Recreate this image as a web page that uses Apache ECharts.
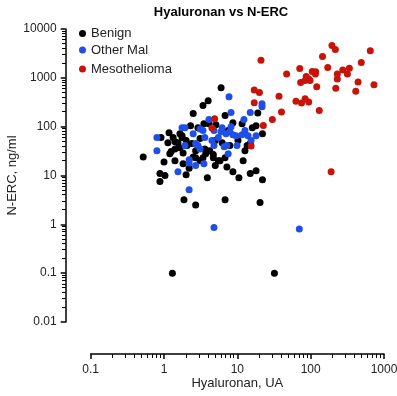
<!DOCTYPE html>
<html>
<head>
<meta charset="utf-8">
<script src="https://cdn.jsdelivr.net/npm/echarts@6/dist/echarts.min.js"></script>
<style>
    html, body { margin: 0; padding: 0; background: #fff; }
    #main { width: 397px; height: 396px; }
</style>
</head>
<body>
<div id="main"></div>
<script>
// 数据：[Hyaluronan (UA), N-ERC (ng/ml)]
var benign = [
    [6.0, 630], [4.0, 340], [3.4, 270], [2.5, 185], [6.8, 170], [19, 190],
    [2.3, 105], [2.9, 95], [3.5, 115], [4.1, 115], [5.1, 110], [8.7, 120], [11.6, 115], [16, 95], [18, 105], [22, 72],
    [1.17, 75], [1.33, 60], [1.65, 72], [1.76, 60], [0.91, 60], [1.41, 49], [1.55, 47], [2.0, 52], [2.4, 45], [2.06, 41],
    [1.65, 37], [1.41, 35], [1.25, 31], [1.82, 29], [2.7, 32], [3.6, 35], [4.2, 32], [5.0, 52], [6.2, 47], [7.9, 41],
    [13.6, 41], [15, 45], [0.52, 24], [1.0, 19], [1.41, 20], [1.82, 17.5], [2.2, 14], [2.7, 23], [3.4, 23], [3.7, 28],
    [4.7, 23], [5.8, 20], [6.8, 23], [7.2, 15], [8.7, 12], [10.5, 9], [12, 20], [15, 11], [18, 12.5], [22, 8.2],
    [2.0, 10.4], [3.9, 9], [0.88, 11], [1.03, 10], [0.88, 7.5], [1.87, 3.2], [2.7, 2.5], [6.8, 3.2], [20.4, 2.8],
    [1.3, 0.1], [32, 0.1], [1.13, 47], [3.1, 57], [7.5, 83], [10.2, 52], [12.7, 32], [3.1, 20], [5.0, 16],
    [1.2, 28], [2.5, 24], [4.7, 27], [5.5, 20], [1.76, 65]
];
var otherMal = [
    [7.7, 410], [8.2, 195], [15, 195], [21.7, 295], [21.7, 255], [12.3, 140], [0.8, 60], [0.8, 32], [1.76, 95], [1.93, 95],
    [2.5, 72], [3.1, 90], [3.4, 83], [4.1, 140], [6.2, 95], [8.2, 100], [6.0, 79], [7.0, 72], [7.9, 79], [9.6, 65],
    [11.6, 68], [14, 65], [12.7, 83], [15.4, 52], [7.2, 41], [9.9, 41], [1.93, 41], [2.9, 41], [3.1, 35], [2.7, 45],
    [1.55, 12], [2.2, 18], [2.2, 21], [2.7, 16], [3.5, 17.5], [2.2, 5.1], [4.8, 0.86], [70, 0.8], [7.5, 28], [4.5, 52],
    [5.5, 60], [3.6, 60], [18, 65], [4.8, 83], [8.7, 68], [4.8, 41], [6.6, 39]
];
var meso = [
    [21, 2300], [195, 4600], [217, 3800], [650, 3600], [145, 2750], [490, 2050], [47, 1200], [71, 1550], [105, 1350], [117, 1340],
    [116, 1200], [171, 1620], [274, 1450], [337, 1570], [231, 1200], [317, 1200], [87, 1060], [94, 950], [84, 880], [73, 800],
    [98, 880], [231, 950], [121, 660], [443, 820], [730, 720], [220, 610], [412, 530], [63, 330], [75, 305], [84, 375],
    [94, 320], [131, 215], [17, 565], [20, 500], [37, 420], [17, 310], [40, 200], [30, 140], [22.6, 106], [4.9, 146],
    [4.5, 94], [15.4, 40], [190, 12]
];

// 刻度
var xTicks = [0.1, 1, 10, 100, 1000];
var yTicks = [0.01, 0.1, 1, 10, 100, 1000, 10000];
var minorSteps = [2, 3, 4, 5, 6, 7, 8, 9];

(function() {
    var myChart = echarts.init(document.getElementById('main'));

    var FONT = 'Liberation Sans';
    var Y_OFFSET = 25;   // y轴向左偏移
    var X_OFFSET = 32;   // x轴向下偏移
    var MINOR_LEN = 4;   // 含压在轴线下的部分

    function fmt(v) {
        return String(parseFloat(Number(v).toPrecision(4)));
    }

    // 对数轴的小刻度 2..9
    var yMinor = [];
    for (var i = 0; i < yTicks.length - 1; i++) {
        minorSteps.forEach(function(m) { yMinor.push([xTicks[0], m * yTicks[i]]); });
    }
    var xMinor = [];
    for (var j = 0; j < xTicks.length - 1; j++) {
        minorSteps.forEach(function(m) { xMinor.push([m * xTicks[j], yTicks[0]]); });
    }

    var tickStyle = { color: '#000', width: 1.5 };

    option = {
        backgroundColor: '#fff',
        animation: false,
        title: {
            text: 'Hyaluronan vs N-ERC',
            left: 216,
            textAlign: 'center',
            top: 1,
            textStyle: { fontFamily: FONT, fontSize: 13, fontWeight: 'bold', color: '#000' }
        },
        legend: [
            { data: ['Benign'], left: 79, top: 27 },
            { data: ['Other Mal'], left: 79, top: 43.5 },
            { data: ['Mesothelioma'], left: 79, top: 62.5 }
        ].map(function(l) {
            l.icon = 'circle';
            l.itemWidth = 7;
            l.itemHeight = 7;
            l.padding = 0;
            l.textStyle = { fontFamily: FONT, fontSize: 13, color: '#222' };
            return l;
        }),
        grid: { left: 90.7, right: 13, top: 29, bottom: 74, outerBoundsMode: 'none', containLabel: false },
        xAxis: {
            type: 'log', logBase: 10, min: 0.1, max: 1000, interval: 1, offset: X_OFFSET,
            name: 'Hyaluronan, UA', nameLocation: 'middle', nameGap: 23, nameMoveOverlap: false,
            nameTextStyle: { fontFamily: FONT, fontSize: 13, color: '#222' },
            axisLine: { lineStyle: tickStyle },
            axisTick: { length: 5, lineStyle: tickStyle },
            axisLabel: { fontFamily: FONT, fontSize: 12, color: '#222', margin: 10, formatter: fmt },
            splitLine: { show: false }
        },
        yAxis: {
            type: 'log', logBase: 10, min: 0.01, max: 10000, interval: 1, offset: Y_OFFSET,
            name: 'N-ERC, ng/ml', nameLocation: 'middle', nameGap: 47, nameMoveOverlap: false,
            nameTextStyle: { fontFamily: FONT, fontSize: 13, color: '#222' },
            axisLine: { lineStyle: tickStyle },
            axisTick: { length: 5, lineStyle: tickStyle },
            axisLabel: { fontFamily: FONT, fontSize: 12, color: '#222', margin: 9, formatter: fmt },
            splitLine: { show: false }
        },
        series: [
            { name: 'Benign', type: 'scatter', data: benign, symbolSize: 7, itemStyle: { color: '#000000', opacity: 1 } },
            { name: 'Other Mal', type: 'scatter', data: otherMal, symbolSize: 7, itemStyle: { color: '#1f4fe6', opacity: 1 } },
            { name: 'Mesothelioma', type: 'scatter', data: meso, symbolSize: 7, itemStyle: { color: '#c81408', opacity: 1 } },
            {
                // y轴小刻度
                type: 'custom', clip: false, data: yMinor,
                renderItem: function(params, api) {
                    var p = api.coord([api.value(0), api.value(1)]);
                    var ax = Math.round(p[0] - Y_OFFSET);
                    return {
                        type: 'rect',
                        shape: { x: ax - MINOR_LEN, y: Math.round(p[1] - 0.5), width: MINOR_LEN, height: 1 },
                        style: { fill: '#000' }
                    };
                }
            },
            {
                // x轴小刻度
                type: 'custom', clip: false, data: xMinor,
                renderItem: function(params, api) {
                    var p = api.coord([api.value(0), api.value(1)]);
                    var ay = Math.round(p[1] + X_OFFSET);
                    return {
                        type: 'rect',
                        shape: { x: Math.round(p[0] - 0.5), y: ay, width: 1, height: MINOR_LEN },
                        style: { fill: '#000' }
                    };
                }
            }
        ]
    };

    myChart.setOption(option);

    window.addEventListener('resize', function() {
        myChart.resize();
    });
})();
</script>
</body>
</html>
